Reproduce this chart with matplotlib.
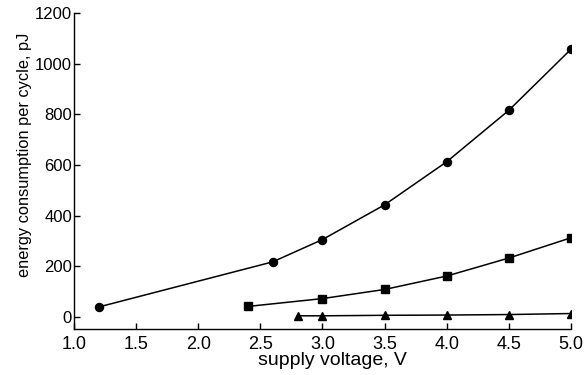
import matplotlib
matplotlib.use("Agg")
import matplotlib.pyplot as plt

plt.rcParams['font.family'] = ['Liberation Sans', 'DejaVu Sans']

# data
v_circle = [1.2, 2.6, 3.0, 3.5, 4.0, 4.5, 5.0]
e_circle = [40, 218, 306, 443, 613, 816, 1057]
v_square = [2.4, 3.0, 3.5, 4.0, 4.5, 5.0]
e_square = [42, 73, 109, 162, 233, 313]
v_tri = [2.8, 3.0, 3.5, 4.0, 4.5, 5.0]
e_tri = [5, 5, 7, 8, 10, 14]

xticks = [1.0, 1.5, 2.0, 2.5, 3.0, 3.5, 4.0, 4.5, 5.0]
yticks = [0, 200, 400, 600, 800, 1000, 1200]

fig = plt.figure(figsize=(5.85, 3.75), dpi=100)
ax = fig.add_axes([0.1265, 0.1227, 0.8495, 0.8426])

ax.plot(v_circle, e_circle, '-o', color='black', lw=1.1, ms=5.8)
ax.plot(v_square, e_square, '-s', color='black', lw=1.1, ms=5.2)
ax.plot(v_tri, e_tri, '-^', color='black', lw=1.1, ms=5.5)

ax.set_xlim(1.0, 5.0)
ax.set_ylim(-47, 1200)
ax.set_xticks(xticks)
ax.set_xticklabels(['%.1f' % t for t in xticks])
ax.set_yticks(yticks)
ax.tick_params(direction='in', length=4, width=1)
ax.tick_params(axis='x', labelsize=13, pad=5)
ax.tick_params(axis='y', labelsize=12, pad=1.5)
ax.spines['top'].set_visible(False)
ax.spines['right'].set_visible(False)
for s in ['left', 'bottom']:
    ax.spines[s].set_linewidth(1)

ax.set_xlabel('supply voltage, V', fontsize=14)
ax.xaxis.set_label_coords(0.521, -0.074)
ax.set_ylabel('energy consumption per cycle, pJ', fontsize=11.8)
ax.yaxis.set_label_coords(-0.084, 0.55)

fig.savefig('out.png', dpi=100)
